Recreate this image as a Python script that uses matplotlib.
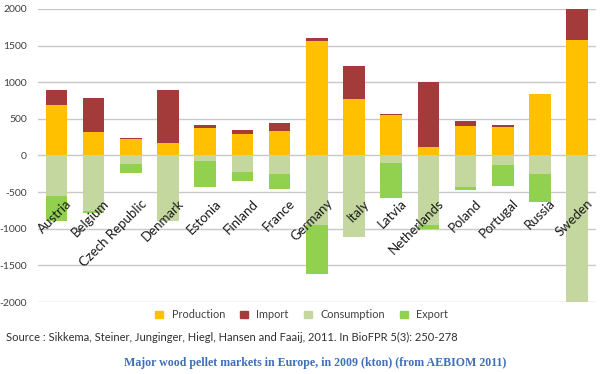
import numpy as np
import matplotlib
matplotlib.use("Agg")
from matplotlib import pyplot as plt
from matplotlib.patches import Patch

countries = ["Austria", "Belgium", "Czech Republic", "Denmark", "Estonia", "Finland",
             "France", "Germany", "Italy", "Latvia", "Netherlands", "Poland",
             "Portugal", "Russia", "Sweden"]
production = [690, 320, 230, 170, 375, 300, 335, 1560, 770, 550, 115, 405, 385, 835, 1575]
imports = [200, 460, 5, 730, 45, 45, 110, 50, 445, 15, 885, 60, 25, 0, 425]
consumption = [550, 760, 115, 890, 80, 220, 250, 945, 1110, 105, 955, 430, 130, 255, 2000]
export = [350, 25, 120, 10, 355, 135, 205, 670, 0, 470, 45, 45, 290, 380, 0]
yticks = [-2000, -1500, -1000, -500, 0, 500, 1000, 1500, 2000]

c_prod = "#FFC000"
c_imp = "#A33B3B"
c_cons = "#C4D79E"
c_exp = "#92D050"

plt.rcParams['font.family'] = ['Lato', 'DejaVu Sans']

fig = plt.figure(figsize=(6, 3.74), dpi=100)
ax = fig.add_axes([0.063, 0.1925, 0.93, 0.7835])

x = np.arange(len(countries))
w = 0.58
prod = np.array(production)
cons = -np.array(consumption)
ax.bar(x, prod, w, color=c_prod, zorder=2)
ax.bar(x, imports, w, bottom=prod, color=c_imp, zorder=2)
ax.bar(x, cons, w, color=c_cons, zorder=2)
ax.bar(x, -np.array(export), w, bottom=cons, color=c_exp, zorder=2)

ax.set_xlim(-0.5, len(countries) - 0.5)
ax.set_ylim(-2000, 2000)
ax.set_yticks(yticks)
ax.set_yticklabels([str(v) for v in yticks])
ax.tick_params(axis='y', length=0, pad=8, labelsize=7.5, labelcolor="#404040")
ax.set_xticks([])
ax.grid(axis='y', color="#c8c8c8", lw=1, zorder=0)
for s in ax.spines.values():
    s.set_visible(False)

# category labels sit inside the plot, rotated
for i, name in enumerate(countries):
    ax.text(i + 0.25, -570, name, rotation=45, rotation_mode='anchor',
            ha='right', va='top', fontsize=9.5, color="#1a1a1a", zorder=3)

handles = [Patch(color=c_prod), Patch(color=c_imp), Patch(color=c_cons), Patch(color=c_exp)]
fig.legend(handles, ["Production", "Import", "Consumption", "Export"],
           loc='center', bbox_to_anchor=(0.503, 0.158), ncol=4, frameon=False,
           fontsize=7.8, handlelength=0.7, handleheight=0.7, columnspacing=1.4,
           handletextpad=0.8, labelcolor="#404040")

fig.text(0.01, 0.098, "Source : Sikkema, Steiner, Junginger, Hiegl, Hansen and Faaij, 2011. In BioFPR 5(3): 250-278",
         fontsize=8, color="#303030", va='center')
fig.text(0.525, 0.029, "Major wood pellet markets in Europe, in 2009 (kton) (from AEBIOM 2011)",
         family='Liberation Serif', fontweight='bold', fontsize=8.6, color="#3F6FB5",
         ha='center', va='center')

fig.savefig("out.png", dpi=100)
